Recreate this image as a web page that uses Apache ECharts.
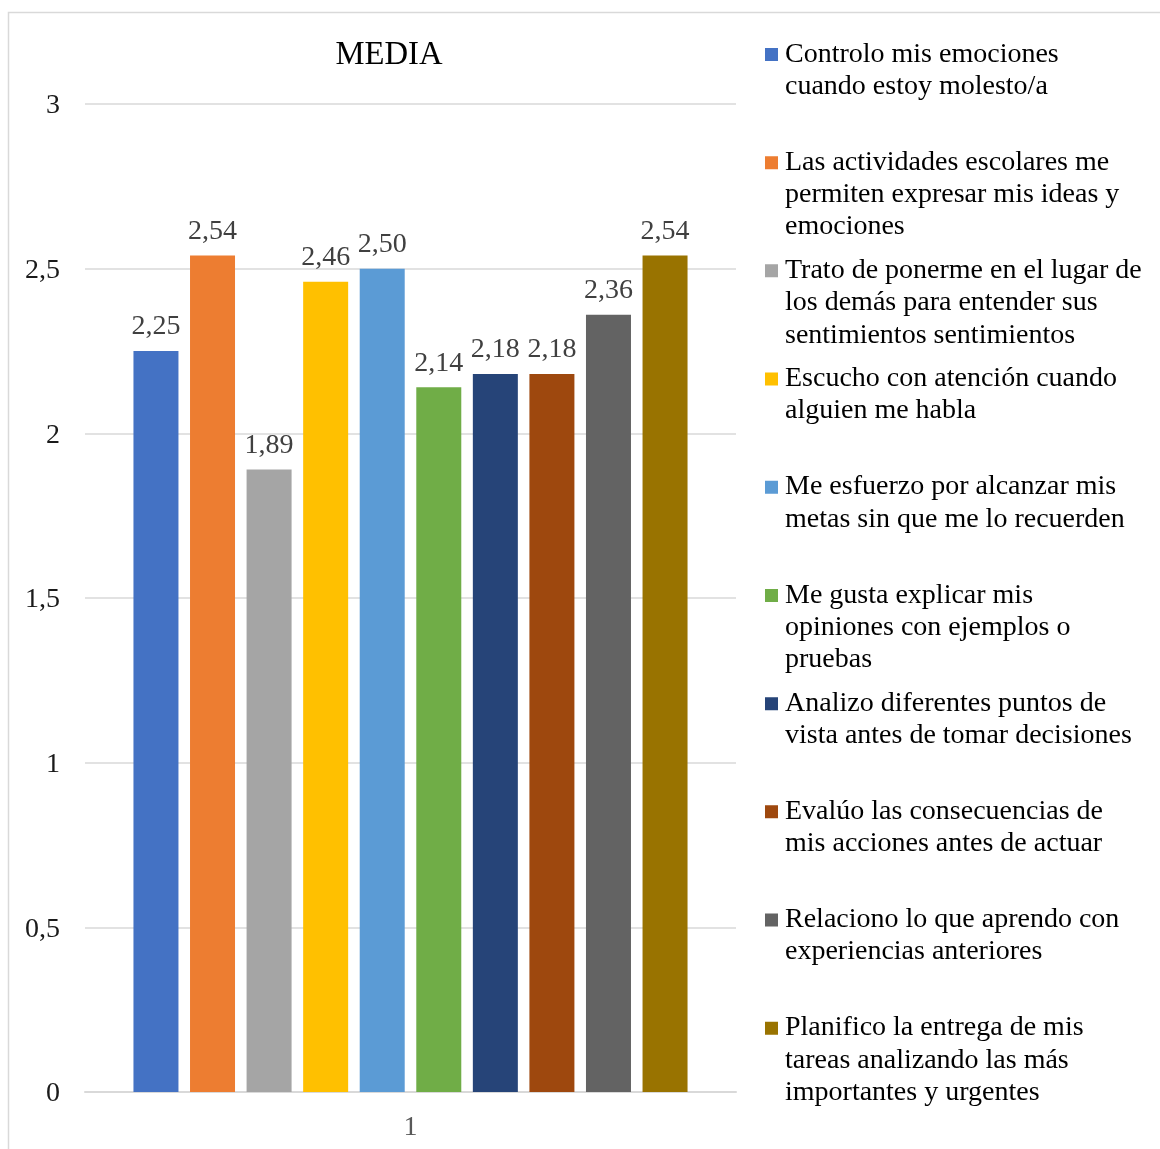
<!DOCTYPE html>
<html>
<head>
<meta charset="utf-8">
<script src="https://cdn.jsdelivr.net/npm/echarts@6/dist/echarts.min.js"></script>
<style>
html,body{margin:0;padding:0;background:#fff;}
#chart{width:1160px;height:1149px;}
</style>
</head>
<body>
<div id="chart"></div>
<script>
const categories = ['1'];
const seriesNames = [
  'Controlo mis emociones\ncuando estoy molesto/a',
  'Las actividades escolares me\npermiten expresar mis ideas y\nemociones',
  'Trato de ponerme en el lugar de\nlos demás para entender sus\nsentimientos sentimientos',
  'Escucho con atención cuando\nalguien me habla',
  'Me esfuerzo por alcanzar mis\nmetas sin que me lo recuerden',
  'Me gusta explicar mis\nopiniones con ejemplos o\npruebas',
  'Analizo diferentes puntos de\nvista antes de tomar decisiones',
  'Evalúo las consecuencias de\nmis acciones antes de actuar',
  'Relaciono lo que aprendo con\nexperiencias anteriores',
  'Planifico la entrega de mis\ntareas analizando las más\nimportantes y urgentes'
];
const seriesValues = [2.25, 2.54, 1.89, 2.46, 2.50, 2.14, 2.18, 2.18, 2.36, 2.54];
const colors = ['#4472C4', '#ED7D31', '#A5A5A5', '#FFC000', '#5B9BD5', '#70AD47', '#264478', '#9E480E', '#636363', '#997300'];
const yTicks = [0, 0.5, 1, 1.5, 2, 2.5, 3];

const FONT = "'Liberation Serif', 'Times New Roman', serif";
const fmt = v => '{t|' + String(v).replace('.', ',') + '}';

const chart = echarts.init(document.getElementById('chart'), null, {renderer: 'canvas'});

const series = seriesNames.map((name, i) => ({
  name: name,
  type: 'bar',
  data: [seriesValues[i]],
  barWidth: 45,
  barGap: '25.7%',
  itemStyle: {color: colors[i], borderWidth: 0},
  label: {
    show: true,
    position: 'top',
    distance: 10,
    fontFamily: FONT,
    fontSize: 28,
    color: '#404040',
    formatter: p => p.value.toFixed(2).replace('.', ',')
  }
}));

chart.setOption({
  animation: false,
  backgroundColor: '#fff',
  title: {
    text: 'MEDIA',
    left: 389,
    textAlign: 'center',
    top: 39,
    padding: 0,
    textStyle: {fontFamily: FONT, fontSize: 32.7, fontWeight: 'normal', color: '#000'}
  },
  graphic: [{
    type: 'rect',
    shape: {x: 8.5, y: 12.5, width: 1300, height: 1300},
    style: {fill: 'none', stroke: '#d9d9d9', lineWidth: 1.5},
    silent: true,
    z: -10
  }],
  legend: {
    orient: 'vertical',
    left: 765,
    top: 38,
    padding: 0,
    itemGap: 11.3,
    itemWidth: 13,
    itemHeight: 77,
    icon: 'path://M0,0H13V13H0Z M0,77H13',
    itemStyle: {borderWidth: 0},
    selectedMode: false,
    data: seriesNames,
    formatter: name => {
      const lines = name.split('\n');
      while (lines.length < 3) lines.push('\u00a0');
      return lines.join('\n');
    },
    textStyle: {
      fontFamily: FONT,
      fontSize: 28,
      lineHeight: 32.3,
      color: '#000',
      padding: [0, 0, 0, 2]
    }
  },
  grid: {left: 85, right: 424, top: 104, bottom: 57, containLabel: false},
  xAxis: {
    type: 'category',
    data: categories,
    axisTick: {show: false},
    axisLine: {show: true, lineStyle: {color: '#d9d9d9', width: 2}},
    axisLabel: {fontFamily: FONT, fontSize: 28, color: '#595959', margin: 22}
  },
  yAxis: {
    type: 'value',
    min: yTicks[0],
    max: yTicks[yTicks.length - 1],
    interval: 0.5,
    axisLine: {show: false},
    axisTick: {show: false},
    splitLine: {lineStyle: {color: '#d9d9d9', width: 1.5}},
    axisLabel: {
      fontFamily: FONT, fontSize: 28, color: '#1a1a1a', margin: 25, formatter: fmt,
      rich: {t: {fontFamily: FONT, fontSize: 28, color: '#1a1a1a', padding: [4, 0, 0, 0]}}
    }
  },
  series: series
});
</script>
</body>
</html>
